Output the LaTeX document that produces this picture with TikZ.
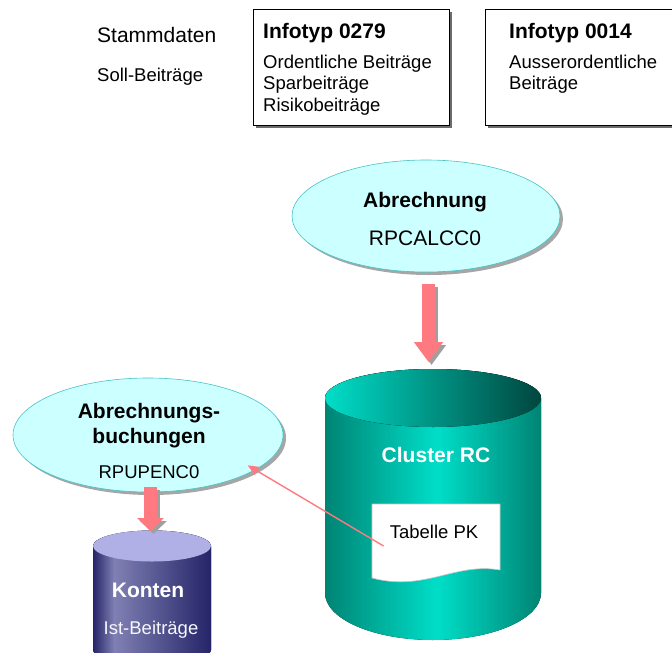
\documentclass[tikz,border=0pt]{standalone}
\usepackage{fontspec}
\setmainfont{Liberation Sans}
\usetikzlibrary{shapes.geometric,shadows,arrows.meta}
\definecolor{rosa}{RGB}{255,122,128}
\definecolor{hellcyan}{RGB}{204,255,255}
\definecolor{cyanrand}{RGB}{70,196,196}
\definecolor{tuerkishell}{RGB}{0,222,200}
\definecolor{tuerkisdunkel}{RGB}{0,132,116}
\definecolor{tuerkisnacht}{RGB}{0,70,62}
\definecolor{blauhell}{RGB}{176,176,230}
\definecolor{blaumitte}{RGB}{128,128,180}
\definecolor{blaudunkel}{RGB}{36,36,104}
\pgfdeclarehorizontalshading{clusterseite}{100bp}{color(0bp)=(tuerkisdunkel); color(25bp)=(tuerkisdunkel); color(51bp)=(tuerkishell); color(75bp)=(tuerkisdunkel); color(100bp)=(tuerkisdunkel)}
\pgfdeclarehorizontalshading{clusterdeckel}{100bp}{color(0bp)=(tuerkishell); color(25bp)=(tuerkishell); color(75bp)=(tuerkisnacht); color(100bp)=(tuerkisnacht)}
\pgfdeclarehorizontalshading{kontenseite}{100bp}{color(0bp)=(blaudunkel); color(25bp)=(blaudunkel); color(34bp)=(blaumitte); color(75bp)=(blaudunkel); color(100bp)=(blaudunkel)}

\begin{document}
\begin{tikzpicture}[x=1pt,y=-1pt]
\tikzset{gross/.style={font=\fontsize{21}{25}\selectfont, inner sep=0pt},
  klein/.style={font=\fontsize{18.5}{21.5}\selectfont, inner sep=0pt},
  grossfett/.style={font=\fontsize{21}{25}\selectfont\bfseries, inner sep=0pt},
  kastentext/.style={klein, align=left, anchor=north west},
  infokasten/.style={draw, line width=0.8pt, fill=white, minimum height=116, inner sep=0pt,
    drop shadow={shadow xshift=3pt, shadow yshift=-3pt, fill=gray!85!black, opacity=1}},
  programm/.style={ellipse, draw=cyanrand, line width=0.6pt, fill=hellcyan, inner sep=0pt,
    drop shadow={shadow xshift=3pt, shadow yshift=-3pt, fill=gray!70, opacity=1}},
  programmtext/.style={gross, align=center},
  dickpfeil/.style={line width=13pt, rosa, -{Triangle[length=20pt,width=28pt]}},
  duennpfeil/.style={line width=1.4pt, rosa, -{Triangle[length=11pt,width=9pt]}}}
\useasboundingbox (0,0) rectangle (672,653);
\clip (0,0) rectangle (672,653);
\node[gross, anchor=west] (stamm) at (97,35) {Stammdaten};
\node[klein, anchor=west] (soll) at (97,77) {Soll-Beiträge};
\node[infokasten, minimum width=196] (IT0279) at (351,67) {};
\node[infokasten, minimum width=200] (IT0014) at (585,67) {};
\node[kastentext] (T0279) at (263,23) {{\fontsize{21}{25}\selectfont\bfseries Infotyp 0279}\\[8.5pt]Ordentliche Beiträge\\Sparbeiträge\\Risikobeiträge};
\node[kastentext] (T0014) at (509,23) {{\fontsize{21}{25}\selectfont\bfseries Infotyp 0014}\\[8.5pt]Ausserordentliche\\Beiträge};
\node[programm, minimum width=268, minimum height=112] (abr) at (426,216) {};
\node[programmtext] (abrtext) at (425,218.5) {\textbf{Abrechnung}\\[13pt]RPCALCC0};
\node[programm, minimum width=270, minimum height=114] (buch) at (148,435) {};
\node[programmtext] (buchtext) at (149,441) {\textbf{Abrechnungs-}\\\textbf{buchungen}\\[10pt]{\fontsize{18.5}{21.5}\selectfont RPUPENC0}};
\fill[shading=clusterseite] (325,398) -- (325,593) arc[start angle=180, end angle=0, x radius=108, y radius=47]
  -- (541,398) arc[start angle=0, end angle=-180, x radius=108, y radius=29] -- cycle;
\fill[shading=clusterdeckel] (433,398) ellipse[x radius=108, y radius=29];
\coordinate (cltop) at (428.5,369);
\fill[shading=kontenseite] (93,546) -- (93,650) arc[start angle=180, end angle=0, x radius=59, y radius=15.5]
  -- (211,546) arc[start angle=0, end angle=-180, x radius=59, y radius=15.5] -- cycle;
\fill[blauhell] (152,546) ellipse[x radius=59, y radius=15.5];
\coordinate (kotop) at (150.5,531);
\filldraw[draw=gray!45, fill=white, line width=0.6pt] (372,504) -- (500,504) -- (500,570)
  .. controls (455,562) and (425,592) .. (372,578) -- cycle;
\node[klein] (tab) at (434,532) {Tabelle PK};
\node[grossfett, text=white] (cluster) at (436,455) {Cluster RC};
\node[grossfett, text=white] (konten) at (148,590) {Konten};
\node[klein, text=white!88!blauhell] (ist) at (151,630) {Ist-Beiträge};
\draw[dickpfeil, gray!75, transform canvas={xshift=3pt, yshift=-3pt}, shorten <=12pt, shorten >=7pt] (abr.south -| cltop) -- (cltop);
\draw[dickpfeil, shorten <=12pt, shorten >=7pt] (abr.south -| cltop) -- (cltop);
\draw[dickpfeil, gray!75, transform canvas={xshift=3pt, yshift=-3pt}, shorten <=-5pt, {-Triangle[length=13pt,width=26pt]}] (buch.south -| kotop) -- (kotop);
\draw[dickpfeil, shorten <=-5pt, {-Triangle[length=13pt,width=26pt]}] (buch.south -| kotop) -- (kotop);
\draw[duennpfeil, shorten >=-9pt] ([shift={(-6,14)}]tab.west) -- (buch.-18);
\end{tikzpicture}
\end{document}
